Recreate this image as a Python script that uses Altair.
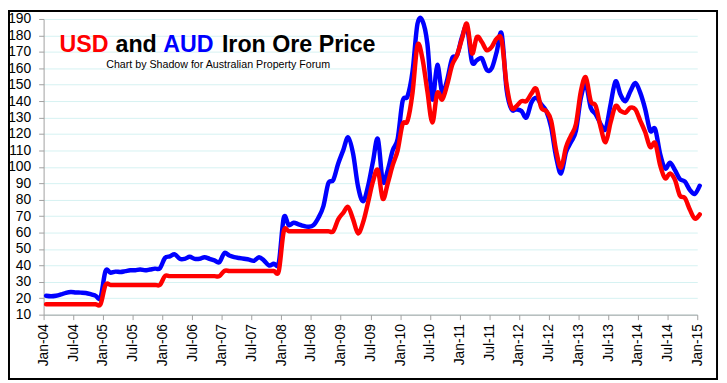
import altair as alt
import pandas as pd

FIRST_MONTH = "2004-01"

TICK_LABELS = ["Jan-04", "Jul-04", "Jan-05", "Jul-05", "Jan-06", "Jul-06", "Jan-07", "Jul-07",
               "Jan-08", "Jul-08", "Jan-09", "Jul-09", "Jan-10", "Jul-10", "Jan-11", "Jul-11",
               "Jan-12", "Jul-12", "Jan-13", "Jul-13", "Jan-14", "Jul-14", "Jan-15"]
Y_TICKS = [10, 20, 30, 40, 50, 60, 70, 80, 90, 100, 110, 120, 130, 140, 150, 160, 170, 180, 190]

# monthly iron ore price, Jan-04 .. Jan-15
USD = [
    16.39, 16.39, 16.39, 16.39, 16.39, 16.39, 16.39, 16.39, 16.39, 16.39, 16.39, 16.39,
    28.11, 28.11, 28.11, 28.11, 28.11, 28.11, 28.11, 28.11, 28.11, 28.11, 28.11, 28.11,
    33.45, 33.45, 33.45, 33.45, 33.45, 33.45, 33.45, 33.45, 33.45, 33.45, 33.45, 33.45,
    36.63, 36.63, 36.63, 36.63, 36.63, 36.63, 36.63, 36.63, 36.63, 36.63, 36.63, 36.63,
    60.8, 60.8, 60.8, 60.8, 60.8, 60.8, 60.8, 60.8, 60.8, 60.8, 60.8, 68.0,
    72.0, 75.5, 68.0, 59.5, 66.0, 78.0, 91.0, 98.0, 80.5, 90.0, 101.0, 110.0,
    126.0, 128.0, 145.0, 174.0, 166.0, 146.0, 127.0, 145.0, 141.0, 150.0, 162.0, 168.0,
    178.0, 187.0, 169.0, 179.0, 176.0, 171.0, 173.0, 178.0, 177.0, 150.0, 136.0, 137.0,
    140.0, 140.0, 144.5, 147.5, 136.0, 134.0, 128.0, 110.0, 99.5, 112.0, 119.0, 126.0,
    146.0, 154.5, 140.0, 137.0, 124.0, 115.0, 127.0, 137.0, 134.0, 133.0, 136.0, 135.0,
    128.0, 121.0, 112.0, 114.5, 101.0, 93.0, 96.0, 92.0, 82.5, 81.0, 74.0, 68.5,
    71.0,
]
AUD = [
    21.5, 21.2, 21.5, 22.3, 23.3, 23.8, 23.5, 23.4, 23.2, 22.5, 21.5, 20.5,
    36.5, 35.5, 36.2, 36.0, 36.5, 37.0, 37.0, 37.5, 37.0, 37.5, 38.0, 38.3,
    44.5, 45.5, 46.7, 44.0, 44.0, 45.2, 44.0, 44.0, 45.0, 44.0, 43.0, 42.0,
    47.5, 46.0, 45.0, 44.5, 44.0, 43.5, 42.8, 45.0, 43.0, 40.0, 41.0, 41.7,
    69.0, 64.5, 66.0, 65.0, 64.0, 63.5, 64.5, 69.0, 76.0, 90.0, 92.0, 102.0,
    110.0, 118.0, 108.0, 88.0, 79.0, 88.0, 103.0, 117.0, 91.0, 98.0, 110.0, 117.0,
    140.0, 143.0, 158.0, 187.0, 189.0, 175.0, 141.0, 162.0, 145.0, 153.0, 166.0, 168.0,
    179.0, 185.0, 164.0, 165.0, 166.0, 159.0, 160.0, 170.0, 181.0, 147.0, 135.0, 135.0,
    134.0, 130.0, 139.0, 142.0, 138.0, 134.0, 124.0, 106.0, 96.0, 109.0, 115.0, 122.0,
    142.0, 150.0, 136.0, 132.0, 126.0, 123.0, 138.0, 152.0, 144.0, 140.0, 146.0, 151.0,
    145.0, 135.0, 122.0, 123.0, 108.0, 99.0, 102.5, 98.0, 92.5, 91.0, 86.0, 83.5,
    88.5,
]

TITLE_PARTS = ["USD", "and", "AUD", "Iron Ore Price"]
TITLE_COLORS = ["#ff0000", "#000000", "#0000ff", "#000000"]
SUBTITLE = "Chart by Shadow for Australian Property Forum"

# ---- layout / styles ----
FONT = "Liberation Sans"
W, H = 661, 299
TITLE_X = [16, 72.7, 121, 180.3]
TITLE_Y = 33.7
AXIS_GREY = "#a0a0a0"

n = len(USD)
months = pd.period_range(FIRST_MONTH, periods=n, freq="M")
df = pd.DataFrame({
    "month": [str(m) for m in months] * 2,
    "pos": [i + 0.5 for i in range(n)] * 2,
    "price": USD + AUD,
    "currency": ["USD"] * n + ["AUD"] * n,
})

label_array = "[" + ",".join("'%s'" % t for t in TICK_LABELS) + "]"

x_enc = alt.X(
    "pos:Q",
    scale=alt.Scale(domain=[0, 6 * (len(TICK_LABELS) - 1)], nice=False, zero=False),
    axis=alt.Axis(
        values=[6 * i for i in range(len(TICK_LABELS))],
        labelExpr=label_array + "[round(datum.value / 6)]",
        labelAngle=270, labelAlign="right", labelBaseline="middle",
        labelPadding=4, tickSize=5, grid=False, title=None,
        labelFlush=False, labelOverlap=False,
        labelFont=FONT, labelFontSize=14, labelColor="#000000",
        domainColor=AXIS_GREY, tickColor=AXIS_GREY,
    ),
)
y_enc = alt.Y(
    "price:Q",
    scale=alt.Scale(domain=[10, 190], nice=False, zero=False),
    axis=alt.Axis(
        values=Y_TICKS, grid=True, gridColor="#d6f2f2", gridWidth=1,
        tickSize=5, labelPadding=8, title=None, labelOverlap=False,
        labelFont=FONT, labelFontSize=14, labelColor="#000000",
        domainColor=AXIS_GREY, tickColor=AXIS_GREY,
    ),
)

base = alt.Chart(df)
aud = base.transform_filter("datum.currency == 'AUD'").mark_line(
    color="#0000ff", strokeWidth=4.5, interpolate="cardinal", strokeCap="round", strokeJoin="round"
).encode(x=x_enc, y=y_enc)
usd = base.transform_filter("datum.currency == 'USD'").mark_line(
    color="#ff0000", strokeWidth=4.5, interpolate="cardinal", strokeCap="round", strokeJoin="round"
).encode(x=x_enc, y=y_enc)

titles = []
for part, col, xp in zip(TITLE_PARTS, TITLE_COLORS, TITLE_X):
    titles.append(
        alt.Chart(pd.DataFrame({"t": [part]})).mark_text(
            align="left", baseline="alphabetic", font=FONT, fontSize=23.5,
            fontWeight="bold", color=col
        ).encode(text="t:N", x=alt.value(xp), y=alt.value(TITLE_Y))
    )

sub = alt.Chart(pd.DataFrame({"t": [SUBTITLE]})).mark_text(
    align="center", baseline="alphabetic", font=FONT, fontSize=10.8, color="#000000"
).encode(text="t:N", x=alt.value(176.5), y=alt.value(49.3))

border = alt.Chart(pd.DataFrame({"a": [0]})).mark_rect(
    fill="transparent", stroke="#000000", strokeWidth=2
).encode(x=alt.value(-35), x2=alt.value(681), y=alt.value(-8), y2=alt.value(364))

chart = alt.layer(aud, usd, *titles, sub, border).properties(
    width=W, height=H,
    autosize=alt.AutoSizeParams(type="none"),
    padding={"left": 36, "top": 9, "right": 22, "bottom": 67},
    background="white",
).configure_view(stroke="transparent")

chart.save("out.html", embed_options={"renderer": "svg", "actions": False})
